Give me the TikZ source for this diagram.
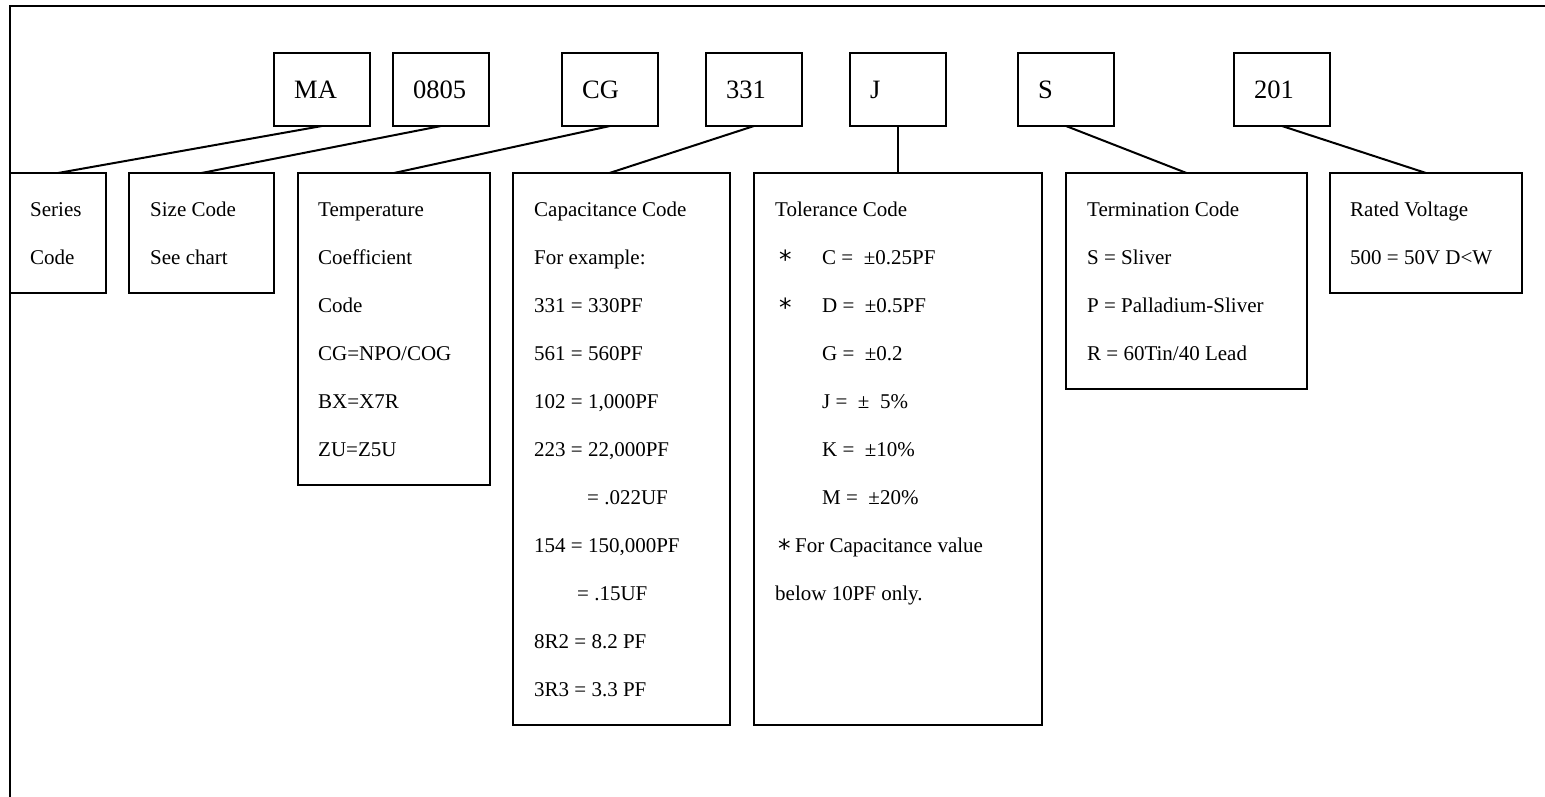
\documentclass[tikz,border=0pt]{standalone}
\usepackage{fontspec}
\setmainfont{Liberation Serif}
\newfontfamily\astfont{DejaVu Sans}
\usetikzlibrary{calc}
\begin{document}
\begin{tikzpicture}[x=1pt,y=-1pt,
  box/.style={draw,line width=2pt,inner sep=0pt,outer sep=0pt,anchor=north west},
  topbox/.style={box,minimum width=96pt,minimum height=73pt},
  conn/.style={line width=2pt},
  txt/.style={inner sep=0pt,anchor=base west,font=\fontsize{21}{24}\selectfont},
  bigtxt/.style={inner sep=0pt,anchor=base west,font=\fontsize{26.5}{30}\selectfont},
  ast/.style={inner sep=0pt,anchor=base west,font=\astfont\fontsize{25}{30}\selectfont}]
\useasboundingbox (0,0) rectangle (1545,796);
% outer frame
\draw[line width=2pt] (10,810) -- (10,6) -- (1560,6);
% top boxes
\node[topbox] (ma) at (274,53) {};
\node[topbox] (sz) at (393,53) {};
\node[topbox] (cg) at (562,53) {};
\node[topbox] (cc) at (706,53) {};
\node[topbox] (jj) at (850,53) {};
\node[topbox] (ss) at (1018,53) {};
\node[topbox] (vv) at (1234,53) {};
\node[bigtxt] (tma) at (294,98) {MA};
\node[bigtxt] (tsz) at (413,98) {0805};
\node[bigtxt] (tcg) at (582,98) {CG};
\node[bigtxt] (tcc) at (726,98) {331};
\node[bigtxt] (tjj) at (870,98) {J};
\node[bigtxt] (tss) at (1038,98) {S};
\node[bigtxt] (tvv) at (1254,98) {201};
% bottom boxes
\node[box,minimum width=96pt,minimum height=120pt] (ser) at (10,173) {};
\node[box,minimum width=145pt,minimum height=120pt] (siz) at (129,173) {};
\node[box,minimum width=192pt,minimum height=312pt] (tmp) at (298,173) {};
\node[box,minimum width=217pt,minimum height=552pt] (cap) at (513,173) {};
\node[box,minimum width=288pt,minimum height=552pt] (tol) at (754,173) {};
\node[box,minimum width=241pt,minimum height=216pt] (ter) at (1066,173) {};
\node[box,minimum width=192pt,minimum height=120pt] (rat) at (1330,173) {};
% connectors
\draw[conn] (ma.south) -- (ser.north);
\draw[conn] (sz.south) -- (siz.north);
\draw[conn] (cg.south) -- (tmp.north);
\draw[conn] (cc.south) -- ($(cap.north)+(-12,0)$);
\draw[conn] (jj.south) -- (tol.north);
\draw[conn] (ss.south) -- (ter.north);
\draw[conn] (vv.south) -- (rat.north);
% texts
\foreach \t [count=\i from 0] in {Series,Code}
  \node[txt] (ser-\i) at (30,216+48*\i) {\t};
\foreach \t [count=\i from 0] in {Size Code,See chart}
  \node[txt] (siz-\i) at (150,216+48*\i) {\t};
\foreach \t [count=\i from 0] in {Temperature,Coefficient,Code,CG=NPO/COG,BX=X7R,ZU=Z5U}
  \node[txt] (tmp-\i) at (318,216+48*\i) {\t};
\foreach \t [count=\i from 0] in {Capacitance Code,For example:,331 = 330PF,561 = 560PF,{102 = 1,000PF},{223 = 22,000PF}}
  \node[txt] (cap-\i) at (534,216+48*\i) {\t};
\node[txt] (cap-6) at (587,504) {= .022UF};
\node[txt] (cap-7) at (534,552) {154 = 150,000PF};
\node[txt] (cap-8) at (577,600) {= .15UF};
\node[txt] (cap-9) at (534,648) {8R2 = 8.2 PF};
\node[txt] (cap-10) at (534,696) {3R3 = 3.3 PF};
\node[txt] (tol-0) at (775,216) {Tolerance Code};
\foreach \t [count=\i from 1] in {C =~~±0.25PF,D =~~±0.5PF,G =~~±0.2,J =~~±~~5\%,K =~~±10\%,M =~~±20\%}
  \node[txt] (tol-\i) at (822,216+48*\i) {\t};
\node[ast] (ast-1) at (779,268) {*};
\node[ast] (ast-2) at (779,316) {*};
\node[ast] (ast-3) at (778,557) {*};
\node[txt] (tol-7) at (795,552) {For Capacitance value};
\node[txt] (tol-8) at (775,600) {below 10PF only.};
\foreach \t [count=\i from 0] in {Termination Code,S = Sliver,P = Palladium-Sliver,R = 60Tin/40 Lead}
  \node[txt] (ter-\i) at (1087,216+48*\i) {\t};
\foreach \t [count=\i from 0] in {Rated Voltage,500 = 50V D<W}
  \node[txt] (rat-\i) at (1350,216+48*\i) {\t};
\end{tikzpicture}
\end{document}
